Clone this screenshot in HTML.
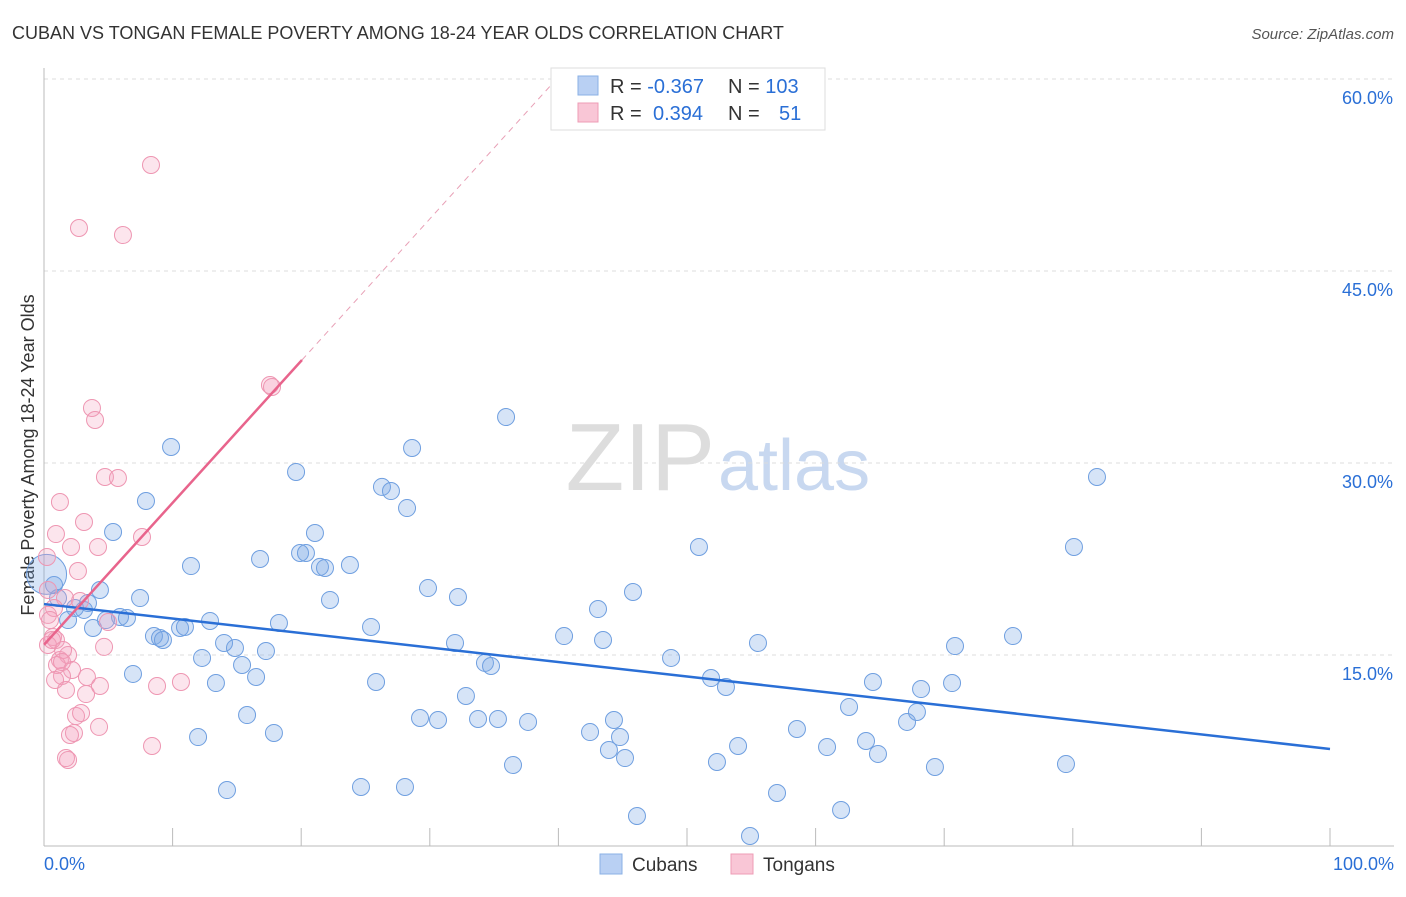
<!DOCTYPE html>
<html><head><meta charset="utf-8"><style>
body{margin:0;background:#fff;font-family:"Liberation Sans",sans-serif}
svg text{font-family:"Liberation Sans",sans-serif}
</style></head><body>
<svg id="c" width="1406" height="892" xmlns="http://www.w3.org/2000/svg">
<text x="12" y="39" font-size="18" fill="#333">CUBAN VS TONGAN FEMALE POVERTY AMONG 18-24 YEAR OLDS CORRELATION CHART</text>
<text x="1394" y="39" font-size="15" fill="#555" text-anchor="end" font-style="italic">Source: ZipAtlas.com</text>
<text x="715" y="490" font-size="96" fill="#ddd" text-anchor="end" font-family="Liberation Serif">ZIP</text>
<text x="718" y="490" font-size="72" fill="#c8d8f0">atlas</text>
<text transform="translate(34,455) rotate(-90)" font-size="18" fill="#333" text-anchor="middle">Female Poverty Among 18-24 Year Olds</text>
<g id="grid"></g><g id="marks"></g>
<g>
<rect x="551" y="68" width="274" height="62" fill="#fff" stroke="#ddd"/>
<rect x="578" y="76" width="20" height="19" fill="#b9d0f3" stroke="#8ab0e6"/>
<rect x="578" y="103" width="20" height="19" fill="#f9c6d6" stroke="#ee9cb6"/>
<text x="610" y="93" font-size="20" fill="#333">R = <tspan fill="#2a6fd6">-0.367</tspan></text>
<text x="728" y="93" font-size="20" fill="#333">N = <tspan fill="#2a6fd6">103</tspan></text>
<text x="610" y="120" font-size="20" fill="#333">R = <tspan fill="#2a6fd6" x="653">0.394</tspan></text>
<text x="728" y="120" font-size="20" fill="#333">N = <tspan fill="#2a6fd6" x="779">51</tspan></text>
</g>
<g>
<rect x="600" y="854" width="22" height="20" fill="#b9d0f3" stroke="#8ab0e6"/>
<text x="632" y="871" font-size="19" fill="#333">Cubans</text>
<rect x="731" y="854" width="22" height="20" fill="#f9c6d6" stroke="#ee9cb6"/>
<text x="763" y="871" font-size="19" fill="#333">Tongans</text>
</g>
</svg>
<script>
const yTicks=[15,30,45,60];
const yTickLabels=["15.0%","30.0%","45.0%","60.0%"];
const xTickLabels=["0.0%","100.0%"];
const bluePx=[[54,585],[113,532],[146,501],[171,447],[191,566],[100,590],[88,603],[75,608],[68,620],[93,628],[120,617],[127,618],[140,598],[106,620],[154,636],[160,638],[163,640],[180,628],[185,627],[210,621],[202,658],[216,683],[224,643],[235,648],[242,665],[256,677],[266,651],[279,623],[247,715],[274,733],[198,737],[227,790],[133,674],[260,559],[296,472],[300,553],[306,553],[315,533],[320,567],[325,568],[330,600],[350,565],[371,627],[376,682],[361,787],[382,487],[391,491],[407,508],[412,448],[405,787],[420,718],[428,588],[438,720],[458,597],[455,643],[466,696],[478,719],[485,663],[491,666],[498,719],[506,417],[513,765],[528,722],[564,636],[590,732],[598,609],[603,640],[609,750],[614,720],[620,737],[625,758],[633,592],[637,816],[671,658],[699,547],[711,678],[717,762],[726,687],[738,746],[750,836],[758,643],[777,793],[797,729],[827,747],[841,810],[849,707],[866,741],[873,682],[878,754],[907,722],[917,712],[921,689],[935,767],[952,683],[955,646],[1013,636],[1066,764],[1074,547],[1097,477],[58,598],[84,610]];
const pinkPx=[[151,165],[79,228],[123,235],[270,385],[272,387],[92,408],[95,420],[105,477],[118,478],[60,502],[84,522],[56,534],[142,537],[71,547],[98,547],[47,557],[78,571],[48,590],[65,598],[80,601],[54,608],[108,622],[48,615],[53,637],[56,640],[104,647],[48,645],[60,660],[68,655],[63,650],[57,665],[72,670],[62,676],[87,677],[55,680],[66,690],[86,694],[100,686],[181,682],[157,686],[76,716],[81,713],[99,727],[74,733],[70,735],[152,746],[68,760],[66,758],[50,620],[52,640],[62,662]];
const cubanX=bluePx.map(p=>+((p[0]-44)/12.86).toFixed(2));
const cubanY=bluePx.map(p=>+((847-p[1])/12.8).toFixed(2));
const tonganX=pinkPx.map(p=>+((p[0]-44)/12.86).toFixed(2));
const tonganY=pinkPx.map(p=>+((847-p[1])/12.8).toFixed(2));
const blueTrend=[18.98,7.66];
const pinkTrend=[15.8,1.109];
const X=v=>44+v*12.86, Y=v=>847-v*12.8;
const NS="http://www.w3.org/2000/svg";
function mk(t,a,p){const e=document.createElementNS(NS,t);for(const k in a)e.setAttribute(k,a[k]);p.appendChild(e);return e;}
const g=document.getElementById('grid'), m=document.getElementById('marks');
yTicks.forEach((t,i)=>{
 const l=mk('line',{x1:44,x2:1394,y1:Y(t),y2:Y(t),stroke:'#ddd','stroke-dasharray':'4,4'},g);
 
 
 const tx=mk('text',{x:1393,y:Y(t)+25,'font-size':18,fill:'#2a6fd6','text-anchor':'end'},g);tx.textContent=yTickLabels[i];
 
 
});
mk('line',{x1:44,x2:44,y1:68,y2:846,stroke:'#bbb'},g);
mk('line',{x1:44,x2:1394,y1:846,y2:846,stroke:'#bbb'},g);
for(let i=0;i<=10;i++){mk('line',{x1:X(i*10),x2:X(i*10),y1:828,y2:846,stroke:'#bbb'},g);}
const xl0=mk('text',{x:44,y:870,'font-size':18,fill:'#2a6fd6'},g);xl0.textContent=xTickLabels[0];


const xl1=mk('text',{x:1394,y:870,'font-size':18,fill:'#2a6fd6','text-anchor':'end'},g);xl1.textContent=xTickLabels[1];


cubanX.forEach((x,i)=>{const c=mk('circle',{cx:X(x),cy:Y(cubanY[i]),r:8.5,fill:'rgba(120,165,230,0.3)',stroke:'#6f9fe0','stroke-width':1},m);
 
 });
const big=mk('circle',{cx:X(0.2),cy:Y(21.3),r:20,fill:'rgba(120,165,230,0.3)',stroke:'#6f9fe0'},m);


tonganX.forEach((x,i)=>{const c=mk('circle',{cx:X(x),cy:Y(tonganY[i]),r:8.5,fill:'rgba(245,160,190,0.28)',stroke:'#ee96b2','stroke-width':1},m);
 
 });
const bl=mk('line',{x1:X(0),y1:Y(blueTrend[0]),x2:X(100),y2:Y(blueTrend[1]),stroke:'#2a6fd6','stroke-width':2.5},m);


const pe=20.06, pd=(60-pinkTrend[0])/pinkTrend[1];
const pl=mk('line',{x1:X(0),y1:Y(pinkTrend[0]),x2:X(pe),y2:Y(pinkTrend[0]+pinkTrend[1]*pe),stroke:'#e8648c','stroke-width':2.5},m);


const pdl=mk('line',{x1:X(pe),y1:Y(pinkTrend[0]+pinkTrend[1]*pe),x2:X(pd),y2:Y(60),stroke:'#e8a0b6','stroke-width':1,'stroke-dasharray':'6,5'},m);


</script>
</body></html>
